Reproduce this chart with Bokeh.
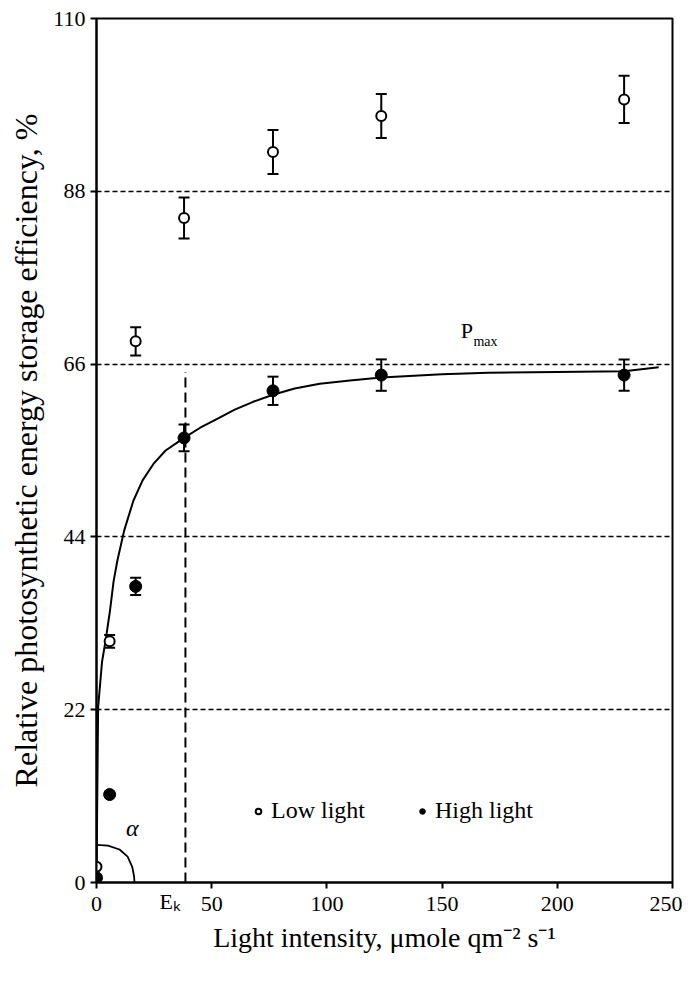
from bokeh.plotting import figure
from bokeh.models import (ColumnDataSource, Whisker, TeeHead, Label, Legend,
                          LegendItem, FixedTicker, LinearAxis)
from bokeh.embed import file_html
from bokeh.resources import INLINE

# ---------------- data ----------------
light = [0, 5.7, 17, 38, 76.6, 123.6, 229]
low_light = [2.0, 30.7, 68.9, 84.6, 93.0, 97.6, 99.7]
low_err = [0, 0.8, 1.8, 2.6, 2.8, 2.8, 3.0]
high_light = [0.6, 11.2, 37.7, 56.6, 62.6, 64.6, 64.6]
high_err = [0, 0, 1.1, 1.7, 1.8, 2.0, 2.0]

fit_x = [0, 0.3, 0.7, 2.4, 3.9, 5.8, 7.4, 9.0, 12, 16, 20, 25, 30, 35, 38,
         45, 52.8, 60, 68, 76.6, 86, 96.9, 110, 123.6, 150, 170, 200, 229, 244]
fit_y = [0, 10, 22.3, 28.1, 30.7, 34.5, 38.3, 40.9, 44.8, 48.6, 51.2, 53.4, 55.0,
         56.0, 56.6, 57.9, 59.1, 60.2, 61.2, 62.1, 62.9, 63.5, 63.9, 64.3, 64.7,
         64.9, 65.0, 65.1, 65.6]

alpha_x = [0, 5, 10, 13.5, 15.5, 16.3, 16.5]
alpha_y = [4.8, 4.7, 4.2, 3.3, 2.0, 0.8, 0]

x_ticks = [0, 50, 100, 150, 200, 250]
y_ticks = [0, 22, 44, 66, 88, 110]
grid_levels = [22, 44, 66, 88]

Ek = 38.6
Ek_top = 65
Ek_label_pos = 32

FONT = "Liberation Serif"

# ---------------- figure ----------------
p = figure(frame_width=576, frame_height=864, x_range=(0, 250), y_range=(0, 110),
           output_backend="svg", toolbar_location=None,
           min_border_left=96, min_border_right=10, min_border_top=18,
           min_border_bottom=98)
p.background_fill_color = "white"
p.border_fill_color = "white"
p.outline_line_color = "black"
p.outline_line_width = 2

p.xgrid.visible = False
p.ygrid.ticker = FixedTicker(ticks=grid_levels)
p.ygrid.grid_line_color = "black"
p.ygrid.grid_line_width = 1.5
p.ygrid.grid_line_dash = "5 3"

p.xaxis.ticker = FixedTicker(ticks=x_ticks)
p.yaxis.ticker = FixedTicker(ticks=y_ticks)
for ax in (p.xaxis[0], p.yaxis[0]):
    ax.axis_line_width = 2
    ax.axis_line_color = "black"
    ax.major_tick_line_width = 2
    ax.major_tick_line_color = "black"
    ax.major_tick_out = 6
    ax.major_tick_in = 0
    ax.minor_tick_line_color = None
    ax.major_label_text_font = FONT
    ax.major_label_text_font_size = "22px"
    ax.major_label_text_color = "black"
    ax.axis_label_text_font = FONT
    ax.axis_label_text_font_style = "normal"
    ax.axis_label_text_color = "black"

p.yaxis.axis_label = "Relative photosynthetic energy storage efficiency, %"
p.yaxis.axis_label_text_font_size = "32px"
p.xaxis.major_label_standoff = 8
p.yaxis.major_label_standoff = 5
p.yaxis.axis_label_standoff = 6

# second x axis carrying the E_k mark and the axis title
ek_axis = LinearAxis(ticker=FixedTicker(ticks=[Ek_label_pos]),
                     major_label_overrides={Ek_label_pos: "E\u2096"},
                     axis_line_color=None, major_tick_line_color=None,
                     minor_tick_line_color=None, major_tick_out=0,
                     major_tick_in=0, major_label_standoff=-25,
                     major_label_text_font=FONT,
                     major_label_text_font_size="22px",
                     major_label_text_color="black",
                     axis_label="Light intensity, \u03bcmole qm\u207b\u00b2 s\u207b\u00b9",
                     axis_label_text_font=FONT,
                     axis_label_text_font_size="28px",
                     axis_label_text_font_style="normal",
                     axis_label_text_color="black",
                     axis_label_standoff=5)
p.add_layout(ek_axis, "below")

# fitted curve
p.line(fit_x, fit_y, line_color="black", line_width=2)

# Ek line
p.segment(x0=[Ek], y0=[0], x1=[Ek], y1=[Ek_top], line_color="black",
          line_width=2, line_dash="10 5")

# alpha arc
p.line(alpha_x, alpha_y, line_color="black", line_width=1.8)

# error bars
def err_source(vals, errs):
    xs, up, lo = [], [], []
    for x, v, e in zip(light, vals, errs):
        if e > 0:
            xs.append(x)
            up.append(v + e)
            lo.append(v - e)
    return ColumnDataSource(dict(base=xs, upper=up, lower=lo))

for vals, errs in ((low_light, low_err), (high_light, high_err)):
    w = Whisker(source=err_source(vals, errs), base="base", upper="upper",
                lower="lower", dimension="height", line_color="black",
                line_width=2,
                upper_head=TeeHead(size=11, line_width=2, line_color="black"),
                lower_head=TeeHead(size=11, line_width=2, line_color="black"))
    p.add_layout(w)

r_low = p.scatter(light, low_light, marker="circle", size=10,
                  fill_color="white", line_color="black", line_width=2)
r_high = p.scatter(light, high_light, marker="circle", size=12,
                   fill_color="black", line_color="black", line_width=1)

legend = Legend(items=[LegendItem(label="Low light", renderers=[r_low]),
                       LegendItem(label="High light", renderers=[r_high])],
                orientation="horizontal", location=(155, 58),
                border_line_alpha=0, background_fill_alpha=0,
                label_text_font=FONT, label_text_font_size="24px",
                label_text_color="black",
                glyph_width=14, glyph_height=20, label_standoff=6,
                spacing=50, padding=0, margin=0)
p.add_layout(legend)

# text annotations
p.add_layout(Label(x=15.5, y=6.9, text="\u03b1", text_font=FONT,
                   text_font_size="24px", text_font_style="italic",
                   text_color="black",
                   text_align="center", text_baseline="middle"))
p.add_layout(Label(x=158.1, y=70.3, text="P", text_font=FONT,
                   text_font_size="22px", text_align="left",
                   text_color="black", text_baseline="middle"))
p.add_layout(Label(x=163.6, y=68.9, text="max", text_font=FONT,
                   text_font_size="14px", text_align="left",
                   text_color="black", text_baseline="middle"))

open("out.html", "w").write(file_html(p, INLINE))
